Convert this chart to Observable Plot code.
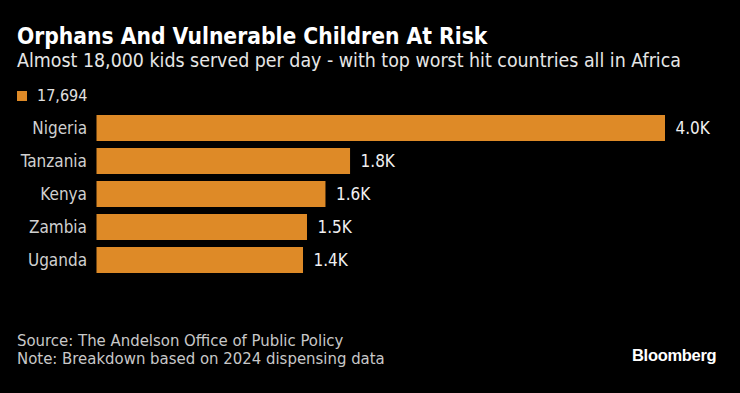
<!DOCTYPE html>
<html>
<head>
<meta charset="utf-8">
<script src="https://cdn.jsdelivr.net/npm/d3@7"></script>
<script src="https://cdn.jsdelivr.net/npm/@observablehq/plot@0.6"></script>
<style>
  html, body { margin: 0; padding: 0; background: #000; }
  #wrap { position: relative; width: 740px; height: 393px; background: #000; overflow: hidden;
          font-family: "Liberation Sans Narrow", "DejaVu Sans Condensed", "Roboto Condensed", sans-serif; }
  .t { position: absolute; white-space: nowrap; }
  #title { left: 17px; top: 23px; font-size: 22.6px; font-weight: bold; color: #fff; }
  #subtitle { left: 17px; top: 49px; font-size: 19.4px; color: #e6e6e6; }
  #legend { left: 17px; top: 86px; font-size: 16px; color: #e0e0e0; }
  #legend .sw { display: inline-block; width: 10px; height: 10px; margin-right: 10px; vertical-align: 0px; }
  #source { left: 17px; top: 332px; font-size: 16.6px; color: #c8c8c8; line-height: 18px; }
  #logo { left: 632px; top: 346px; font-size: 16.5px; font-weight: bold; color: #fff;
          font-family: "Liberation Sans", Arial, sans-serif; letter-spacing: -0.3px; }
  #chart { position: absolute; left: 0; top: 96px; }
</style>
</head>
<body>
<div id="wrap">
  <div class="t" id="title">Orphans And Vulnerable Children At Risk</div>
  <div class="t" id="subtitle">Almost 18,000 kids served per day - with top worst hit countries all in Africa</div>
  <div class="t" id="legend"><span class="sw"></span><span id="legendText"></span></div>
  <div id="chart"></div>
  <div class="t" id="source">Source: The Andelson Office of Public Policy<br>Note: Breakdown based on 2024 dispensing data</div>
  <div class="t" id="logo">Bloomberg</div>
</div>
<script>
const countries = ["Nigeria", "Tanzania", "Kenya", "Zambia", "Uganda"];
const kidsServed = [4000, 1784, 1611, 1481, 1453];
const valueLabels = ["4.0K", "1.8K", "1.6K", "1.5K", "1.4K"];
const totalLabel = "17,694";
const barColor = "#de8a27";

document.getElementById("legendText").textContent = totalLabel;
document.querySelector("#legend .sw").style.background = barColor;

const data = countries.map((c, i) => ({country: c, value: kidsServed[i], label: valueLabels[i]}));

const chart = Plot.plot({
  width: 740,
  height: 186,
  marginTop: 10,
  marginBottom: 0,
  marginLeft: 96.5,
  marginRight: 75,
  style: {background: "transparent", fontFamily: "'Liberation Sans Narrow', 'DejaVu Sans Condensed', sans-serif"},
  x: {domain: [0, 4000], axis: null},
  y: {domain: countries, padding: 0.2, label: null},
  marks: [
    Plot.barX(data, {x: "value", y: "country", fill: barColor}),
    Plot.text(data, {x: "value", y: "country", text: "label", textAnchor: "start", dx: 10, fill: "#f0f0f0", fontSize: 17}),
    Plot.axisY({tickSize: 0, tickPadding: 10, fontSize: 17, color: "#d0d0d0", label: null})
  ]
});
document.getElementById("chart").appendChild(chart);
</script>
</body>
</html>
